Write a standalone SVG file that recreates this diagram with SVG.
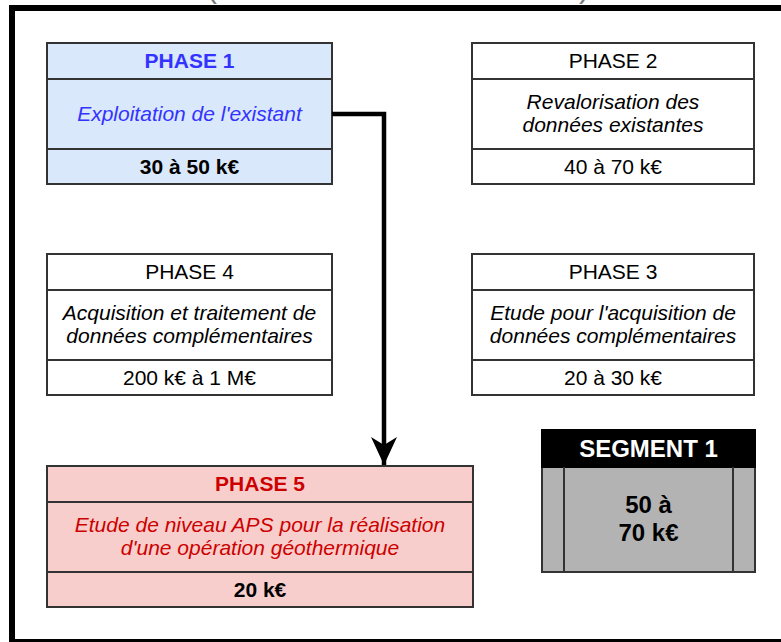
<svg xmlns="http://www.w3.org/2000/svg" width="781" height="642" viewBox="0 0 781 642">
<defs>
<style>
text{font-family:"Liberation Sans",Arial,Helvetica,sans-serif;font-size:21px;text-anchor:middle;fill:#000}
.b{font-weight:bold}
.i{font-style:italic}
.box{stroke:#333;stroke-width:2}
.div{stroke:#333;stroke-width:2;fill:none}
.blue{fill:#3333ff}
.red{fill:#cc0000}
.paren{font-size:30px;fill:#777}
.seg{font-size:24px}
</style>
<marker id="arr" viewBox="0 0 30 30" refX="28" refY="15" markerWidth="30" markerHeight="30" markerUnits="userSpaceOnUse" orient="auto">
<path d="M28 15 L0 2 L8 15 L0 28 Z" fill="#000"/>
</marker>
</defs>
<rect x="0" y="0" width="781" height="642" fill="#fff"/>
<g id="title-fragment">
<text class="paren" x="212" y="-2">(</text>
<text class="paren" x="584" y="-2">)</text>
</g>
<rect id="frame" x="12" y="8" width="800" height="634" fill="none" stroke="#000" stroke-width="6"/>

<g id="phase1">
<rect class="box" x="47" y="43" width="285" height="141" fill="#dae8fc"/>
<line class="div" x1="47" y1="79" x2="332" y2="79"/>
<line class="div" x1="47" y1="149" x2="332" y2="149"/>
<text class="b blue" x="189.5" y="68">PHASE 1</text>
<text class="i blue" x="189.5" y="121">Exploitation de l'existant</text>
<text class="b" x="189.5" y="173.5">30 à 50 k€</text>
</g>

<g id="phase2">
<rect class="box" x="472" y="43" width="282" height="141" fill="#fff"/>
<line class="div" x1="472" y1="79" x2="754" y2="79"/>
<line class="div" x1="472" y1="149" x2="754" y2="149"/>
<text x="613" y="68">PHASE 2</text>
<text class="i" x="613" y="108.5">Revalorisation des</text>
<text class="i" x="613" y="132">données existantes</text>
<text x="613" y="173.5">40 à 70 k€</text>
</g>

<g id="phase4">
<rect class="box" x="47" y="254" width="285" height="141" fill="#fff"/>
<line class="div" x1="47" y1="290" x2="332" y2="290"/>
<line class="div" x1="47" y1="360" x2="332" y2="360"/>
<text x="189.5" y="279">PHASE 4</text>
<text class="i" x="189.5" y="319.5">Acquisition et traitement de</text>
<text class="i" x="189.5" y="343">données complémentaires</text>
<text x="189.5" y="384.5">200 k€ à 1 M€</text>
</g>

<g id="phase3">
<rect class="box" x="472" y="254" width="282" height="141" fill="#fff"/>
<line class="div" x1="472" y1="290" x2="754" y2="290"/>
<line class="div" x1="472" y1="360" x2="754" y2="360"/>
<text x="613" y="279">PHASE 3</text>
<text class="i" x="613" y="319.5">Etude pour l'acquisition de</text>
<text class="i" x="613" y="343">données complémentaires</text>
<text x="613" y="384.5">20 à 30 k€</text>
</g>

<g id="phase5">
<rect class="box" x="47" y="466" width="426" height="141" fill="#f8cecc"/>
<line class="div" x1="47" y1="502" x2="473" y2="502"/>
<line class="div" x1="47" y1="572" x2="473" y2="572"/>
<text class="b red" x="260" y="491">PHASE 5</text>
<text class="i red" x="260" y="531.5">Etude de niveau APS pour la réalisation</text>
<text class="i red" x="260" y="555">d'une opération géothermique</text>
<text class="b" x="260" y="596.5">20 k€</text>
</g>

<g id="segment1">
<rect class="box" x="542" y="430" width="213" height="142" fill="#b3b3b3"/>
<rect x="542" y="430" width="213" height="37" fill="#000" stroke="#000" stroke-width="2"/>
<line class="div" x1="564" y1="467" x2="564" y2="572"/>
<line class="div" x1="733" y1="467" x2="733" y2="572"/>
<text class="b seg" x="648.5" y="456.5" style="fill:#fff">SEGMENT 1</text>
<text class="b seg" x="648.5" y="513">50 à</text>
<text class="b seg" x="648.5" y="541">70 k€</text>
</g>

<g id="connectors">
<path d="M332 114 H384 V465" fill="none" stroke="#000" stroke-width="4.5" marker-end="url(#arr)"/>
</g>
</svg>
